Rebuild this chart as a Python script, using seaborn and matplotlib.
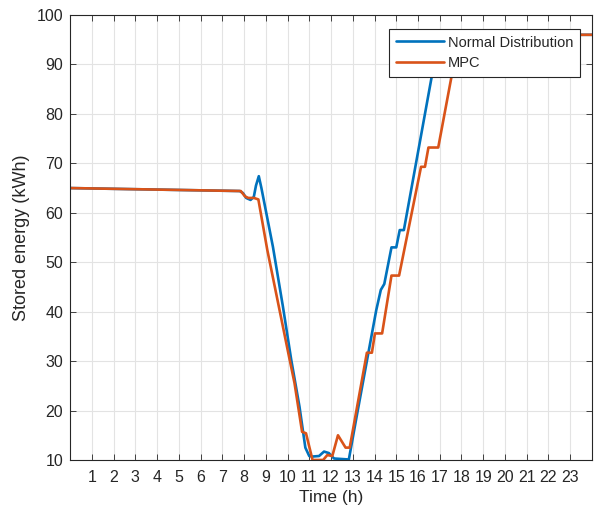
import matplotlib
matplotlib.use("Agg")
import matplotlib.pyplot as plt
import seaborn as sns
import pandas as pd

# Stored energy profiles over one day
normal_time = [0, 7.8, 7.95, 8.1, 8.3, 8.45, 8.55, 8.68, 8.8, 9.33, 9.79, 10.17,
               10.55, 10.82, 11.0, 11.15, 11.45, 11.68, 11.9, 12.14, 12.82, 13.2,
               14.08, 14.29, 14.45, 14.78, 15.0, 15.16, 15.35, 16.98, 24]
normal_energy = [65.0, 64.4, 64.0, 63.0, 62.6, 63.2, 65.5, 67.4, 65.0, 53.1, 41.0, 30.3,
                 20.8, 12.5, 10.8, 10.7, 10.8, 11.7, 11.4, 10.3, 10.1, 19.3,
                 40.3, 44.4, 45.6, 53.0, 53.0, 56.5, 56.5, 96.0, 96.0]

mpc_time = [0, 7.85, 8.05, 8.2, 8.46, 8.66, 9.07, 10.07, 10.32, 10.67, 10.85, 11.15,
            11.64, 11.83, 12.06, 12.32, 12.67, 12.86, 13.65, 13.88, 14.02, 14.35,
            14.78, 15.13, 16.14, 16.32, 16.48, 16.93, 17.9, 24]
mpc_energy = [65.0, 64.4, 63.3, 63.0, 63.0, 62.7, 52.5, 30.9, 25.6, 15.7, 15.4, 10.0,
              10.0, 11.0, 10.8, 15.0, 12.5, 12.5, 31.7, 31.7, 35.6, 35.6,
              47.3, 47.3, 69.3, 69.3, 73.2, 73.2, 96.0, 96.0]

series_names = ["Normal Distribution", "MPC"]
series_colors = ["#0072BD", "#D95319"]
x_ticks = list(range(1, 24))
y_ticks = list(range(10, 101, 10))

df = pd.concat([
    pd.DataFrame({"Time": normal_time, "Energy": normal_energy, "Series": series_names[0]}),
    pd.DataFrame({"Time": mpc_time, "Energy": mpc_energy, "Series": series_names[1]}),
], ignore_index=True)

sns.set_theme(style="white")
plt.rcParams["font.family"] = ["Liberation Sans", "DejaVu Sans"]

fig = plt.figure(figsize=(5.99, 5.18), dpi=100)
ax = fig.add_axes([0.1169, 0.112, 0.8714, 0.859])

sns.lineplot(data=df, x="Time", y="Energy", hue="Series", hue_order=series_names,
             palette=series_colors, estimator=None, sort=False, linewidth=1.9, ax=ax)

ax.set_xlim(0, 24)
ax.set_ylim(10, 100)
ax.set_xticks(x_ticks)
ax.set_yticks(y_ticks)
ax.grid(True, color="#e3e3e3", linewidth=0.8)
ax.set_axisbelow(True)
for s in ax.spines.values():
    s.set_color("#262626")
    s.set_linewidth(0.8)
ax.tick_params(axis="both", which="both", direction="in", length=4, width=0.6,
               colors="#262626", labelsize=11.5, top=True, right=True, bottom=True, left=True)
ax.tick_params(axis="x", pad=7)
ax.tick_params(axis="y", pad=5)
ax.set_xlabel("Time (h)", fontsize=12.5, color="#262626", labelpad=4)
ax.set_ylabel("Stored energy (kWh)", fontsize=13, color="#262626", labelpad=5)

leg = ax.legend(loc="upper right", bbox_to_anchor=(0.977, 0.9685), borderaxespad=0,
                fontsize=10.5, frameon=True, fancybox=False, handlelength=3.3,
                handletextpad=0.3, borderpad=0.45, labelspacing=0.45, title=None)
leg.get_frame().set_edgecolor("#262626")
leg.get_frame().set_linewidth(0.8)
leg.get_frame().set_alpha(1)

fig.savefig("out.png", dpi=100)
